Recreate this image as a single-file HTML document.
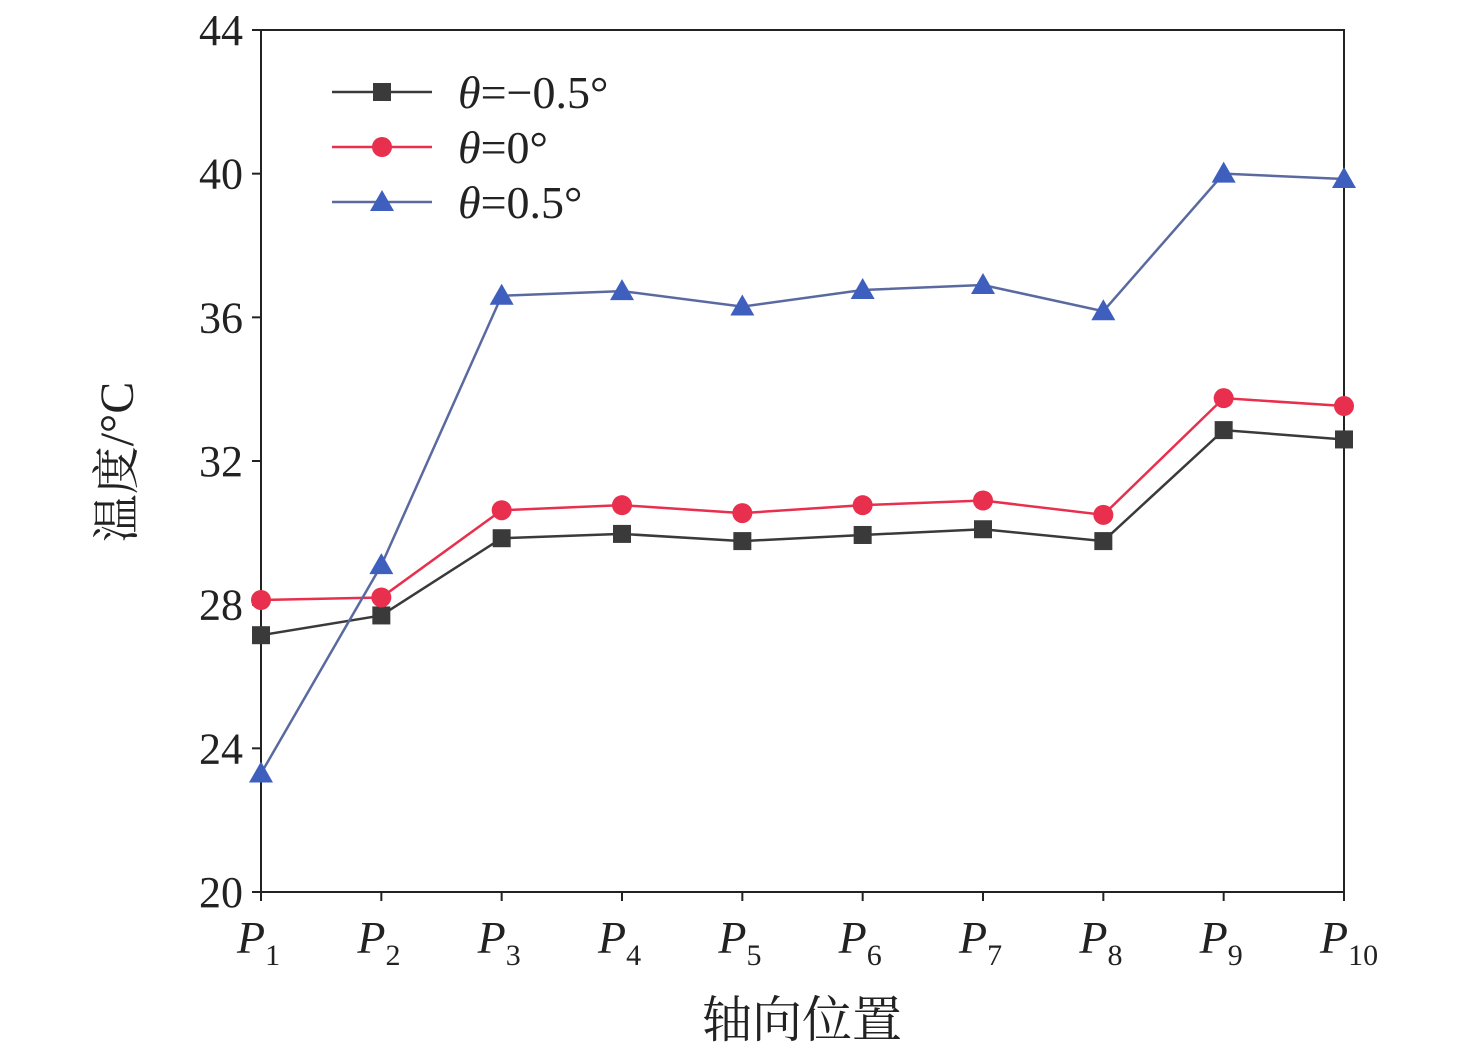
<!DOCTYPE html>
<html><head><meta charset="utf-8">
<style>
html,body{margin:0;padding:0;background:#fff;}
svg{display:block;font-family:"Liberation Serif","Noto Serif CJK SC",serif;}
</style></head>
<body>
<svg id="chart" width="1476" height="1054" viewBox="0 0 1476 1054" xmlns="http://www.w3.org/2000/svg">
<rect x="261" y="30" width="1083" height="862" fill="none" stroke="#222" stroke-width="2"/>
<g id="axes"></g>
<g id="series"></g>
<g id="legend"></g>
<text transform="translate(133,462) rotate(-90)" text-anchor="middle" font-size="48" fill="#222">温度/°C</text>
<text x="802" y="1037" text-anchor="middle" font-size="50" fill="#222">轴向位置</text>
</svg>
<script>
const categories=["1","2","3","4","5","6","7","8","9","10"];
const yTicks=[20,24,28,32,36,40,44];
const seriesNames=["θ=−0.5°","θ=0°","θ=0.5°"];
const s1=[27.15,27.7,29.85,29.97,29.77,29.94,30.1,29.77,32.86,32.6];
const s2=[28.13,28.2,30.63,30.77,30.55,30.77,30.9,30.5,33.75,33.53];
const s3=[23.3,29.1,36.6,36.73,36.3,36.76,36.9,36.17,40.0,39.85];
const NS="http://www.w3.org/2000/svg";
const X0=261,X1=1344,Y0=892,Y1=30,YMIN=20,YMAX=44;
const xs=i=>X0+i*(X1-X0)/(categories.length-1);
const ys=v=>Y0-(v-YMIN)*(Y0-Y1)/(YMAX-YMIN);
function mk(t,a,p){const e=document.createElementNS(NS,t);for(const k in a)e.setAttribute(k,a[k]);p.appendChild(e);return e;}
const axes=document.getElementById('axes');
yTicks.forEach(v=>{
 const l=mk('line',{x1:X0-9,x2:X0,y1:ys(v),y2:ys(v),stroke:'#222','stroke-width':2},axes);
 
 
 const t=mk('text',{x:X0-18,y:ys(v)+15,'text-anchor':'end','font-size':44,fill:'#222'},axes);
 t.textContent=v;
 
 
});
categories.forEach((c,i)=>{
 const l=mk('line',{x1:xs(i),x2:xs(i),y1:Y0,y2:Y0+9,stroke:'#222','stroke-width':2},axes);
 
 
 const t=mk('text',{x:xs(i)-24,y:953,'font-size':46,fill:'#222'},axes);
 
 
 const p=mk('tspan',{'font-style':'italic'},t);p.textContent='P';
 const s=mk('tspan',{'font-size':30,dy:12},t);s.textContent=c;
});
const colors=['#3a3a3a','#e8304e','#3f5fbf'];
const lineCols=['#3a3a3a','#e8304e','#5a6aa0'];
const data=[s1,s2,s3];
const ser=document.getElementById('series');
function marker(k,x,y,g){
 let m;
 if(k===0)m=mk('rect',{x:x-9,y:y-9,width:18,height:18,fill:colors[0]},g);
 else if(k===1)m=mk('circle',{cx:x,cy:y,r:10,fill:colors[1]},g);
 else m=mk('polygon',{points:`${x},${y-12} ${x-12},${y+9} ${x+12},${y+9}`,fill:colors[2]},g);
 return m;
}
data.forEach((d,k)=>{
 const g=mk('g',{},ser);
 
 
 const pl=mk('polyline',{points:d.map((v,i)=>xs(i)+','+ys(v)).join(' '),fill:'none',stroke:lineCols[k],'stroke-width':2.5},g);
 
 
 d.forEach((v,i)=>{const m=marker(k,xs(i),ys(v),g);
  
  });
});
const lg=document.getElementById('legend');
seriesNames.forEach((n,k)=>{
 const y=92+k*55;
 const g=mk('g',{},lg);
 
 
 mk('line',{x1:332,x2:432,y1:y,y2:y,stroke:lineCols[k],'stroke-width':2.5},g);
 marker(k,382,y,g);
 const t=mk('text',{x:458,y:y+16,'font-size':46,fill:'#222'},g);
 const a=mk('tspan',{'font-style':'italic'},t);a.textContent='θ';
 const b=mk('tspan',{},t);b.textContent=n.slice(1);
});
</script>
</body></html>
